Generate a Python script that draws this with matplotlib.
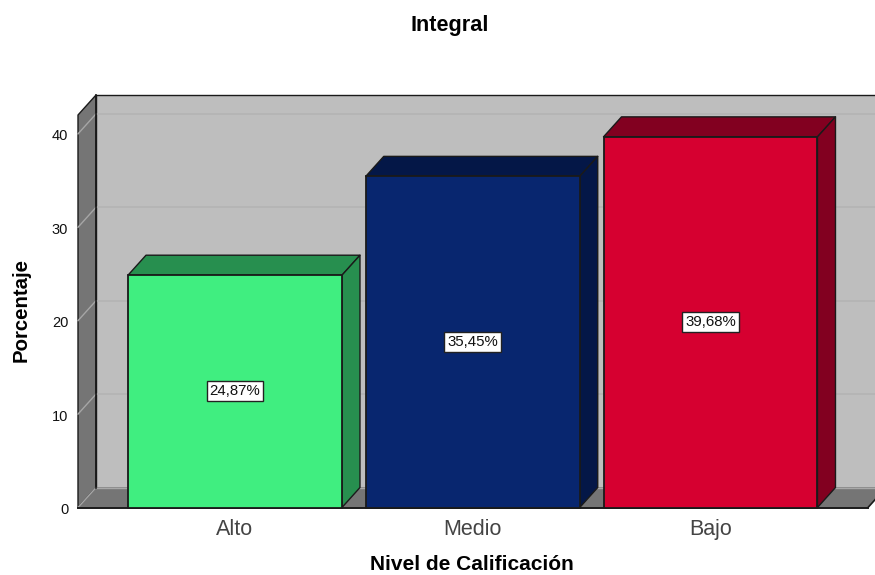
import matplotlib
matplotlib.use('Agg')
import matplotlib.pyplot as plt
from matplotlib.patches import Polygon
from matplotlib.transforms import ScaledTranslation

plt.rcParams['font.family'] = ['Liberation Sans', 'DejaVu Sans']

categorias = ['Alto', 'Medio', 'Bajo']
valores = [24.87, 35.45, 39.68]
etiquetas = ['24,87%', '35,45%', '39,68%']
y_ticks = [0, 10, 20, 30, 40]

col_frente = ['#40EE80', '#08266F', '#D60030']
col_lado = ['#278F4F', '#041747', '#820020']

W, H = 875, 575
fig = plt.figure(figsize=(W / 100, H / 100), dpi=100)
# front plane of the 3d box, in pixels: x 78-868, y 115-507.5
ax = fig.add_axes([78 / W, 1 - 507.5 / H, 790 / W, 392.5 / H])
ax.set_xlim(-0.6603, 2.6625)
ax.set_ylim(0, 42.02)
for s in ax.spines.values():
    s.set_visible(False)

dx = 18 / 237.75
dy = 2.14
x0, x1 = ax.get_xlim()
y1 = ax.get_ylim()[1]
borde = '#1A1A1A'


def poly(pts, color, z, lw=1.0, ec=borde):
    ax.add_patch(Polygon(pts, closed=True, facecolor=color, edgecolor=ec, linewidth=lw,
                         zorder=z, clip_on=False, joinstyle='round'))


# back wall, side wall, floor
poly([(x0 + dx, dy), (x1 + dx, dy), (x1 + dx, y1 + dy), (x0 + dx, y1 + dy)], '#BEBEBE', 1)
poly([(x0, 0), (x0 + dx, dy), (x0 + dx, y1 + dy), (x0, y1)], '#757575', 2)
poly([(x0, 0), (x1, 0), (x1 + dx, dy), (x0 + dx, dy)], '#757575', 2, lw=0)
ax.plot([x0 + dx, x1 + dx], [dy, dy], color='#A8A8A8', lw=1, zorder=2.5, clip_on=False)
ax.plot([x0, x1], [0, 0], color=borde, lw=1.4, zorder=2.5, clip_on=False)
ax.plot([x1, x1 + dx], [0, dy], color=borde, lw=1.2, zorder=2.5, clip_on=False)
ax.plot([x0 + dx, x0 + dx], [dy, y1 + dy], color=borde, lw=1.2, zorder=2.6, clip_on=False)

# grid lines
for t in y_ticks:
    if t > 0:
        ax.plot([x0 + dx, x1 + dx], [t + dy, t + dy], color='#B3B3B3', lw=1.1, zorder=1.5, clip_on=False)
    ax.plot([x0, x0 + dx], [t, t + dy], color='#A6A6A6', lw=1, zorder=2.2, clip_on=False)

ancho = 0.9
for i, v in enumerate(valores):
    a = i - ancho / 2
    b = i + ancho / 2
    z = 3 + i
    poly([(a, v), (b, v), (b + dx, v + dy), (a + dx, v + dy)], col_lado[i], z)
    poly([(b, 0), (b + dx, dy), (b + dx, v + dy), (b, v)], col_lado[i], z)
    ax.bar(i, v, width=ancho, color=col_frente[i], edgecolor=borde, linewidth=1.3, zorder=z + 0.1, clip_on=False)
    ax.text(i, v / 2, etiquetas[i], ha='center', va='center', fontsize=10.8, color='#111111', zorder=10,
            bbox=dict(boxstyle='square,pad=0.2', fc='white', ec='#222222', lw=1))

ax.set_xticks(range(len(categorias)))
ax.set_xticklabels(categorias, fontsize=15.5, color='#444444')
ax.set_yticks(y_ticks)
ax.set_yticklabels([str(t) for t in y_ticks], fontsize=10.5, color='#111111')
ax.tick_params(axis='x', length=0, pad=8)
ax.tick_params(axis='y', length=0, pad=7)
baja = ScaledTranslation(0, -1 / 100, fig.dpi_scale_trans)
for lab in ax.get_yticklabels():
    lab.set_transform(lab.get_transform() + baja)

fig.text(450 / W, 1 - 26 / H, 'Integral', ha='center', va='center', fontsize=15.6, fontweight='bold')
fig.text(472 / W, 1 - 564 / H, 'Nivel de Calificación', ha='center', va='center', fontsize=15, fontweight='bold')
fig.text(21 / W, 1 - 310 / H, 'Porcentaje', ha='center', va='center', rotation=90, fontsize=14.7, fontweight='bold')

fig.savefig('out.png', dpi=100)
